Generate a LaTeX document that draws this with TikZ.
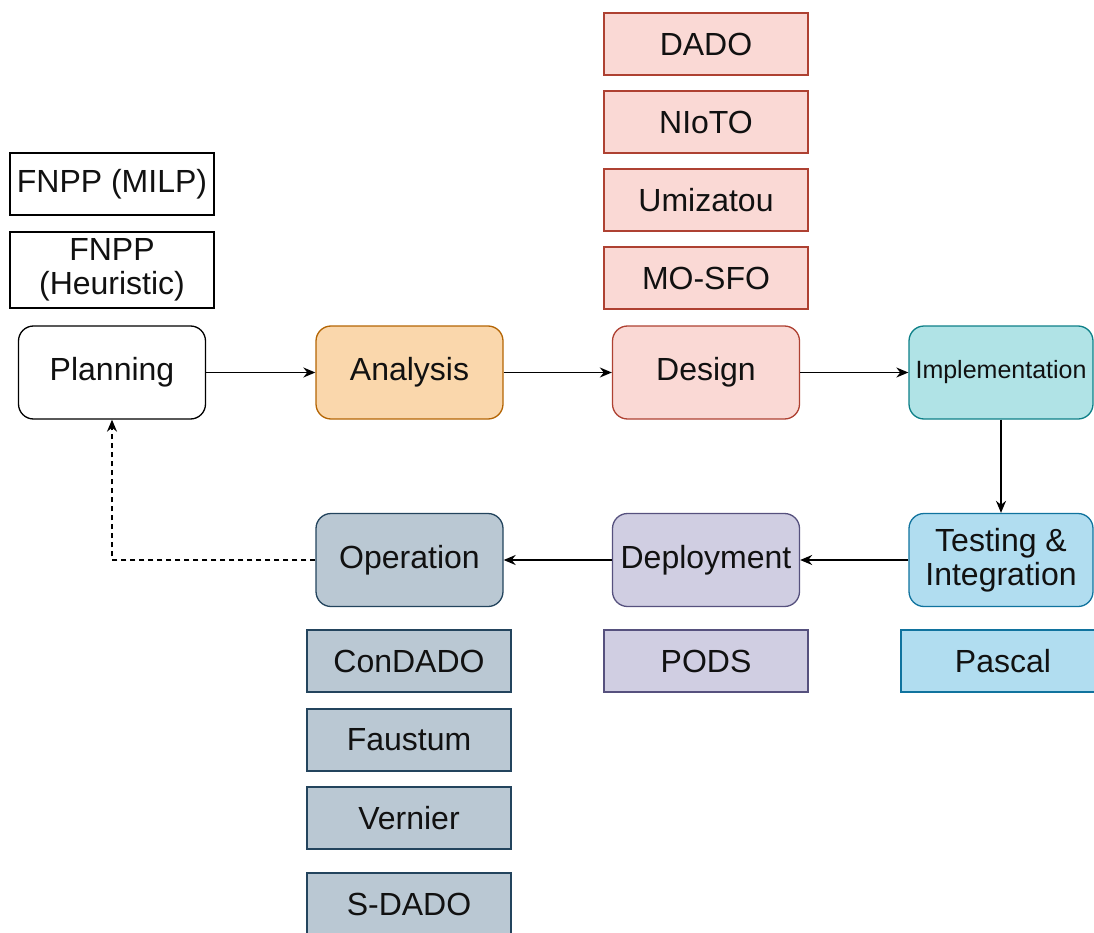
\documentclass[tikz,border=0pt]{standalone}
\usepackage{fontspec}
\setmainfont{Liberation Sans}
\usetikzlibrary{arrows.meta}
\definecolor{orF}{HTML}{FAD7AC}\definecolor{orS}{HTML}{B46504}
\definecolor{rdF}{HTML}{FAD9D5}\definecolor{rdS}{HTML}{AE4132}
\definecolor{tlF}{HTML}{B0E3E6}\definecolor{tlS}{HTML}{0E8088}
\definecolor{blF}{HTML}{B1DDF0}\definecolor{blS}{HTML}{10739E}
\definecolor{puF}{HTML}{D0CEE2}\definecolor{puS}{HTML}{56517E}
\definecolor{gyF}{HTML}{BAC8D3}\definecolor{gyS}{HTML}{23445D}
\definecolor{txt}{HTML}{111111}
\tikzset{
  phase/.style={draw, line width=1.3pt, rounded corners=15pt, minimum width=187pt, minimum height=93pt,
    align=center, inner sep=0pt, text=txt, font=\fontsize{32}{37}\selectfont},
  tool/.style={draw, line width=1.3pt, minimum width=204pt, minimum height=62pt,
    align=center, inner sep=0pt, text=txt, font=\fontsize{32}{37}\selectfont},
  flow/.style={line width=1.6pt, -{Stealth[length=12pt,width=10pt]}},
}
\begin{document}
\begin{tikzpicture}[x=1pt,y=-1pt]
\useasboundingbox (0,0) rectangle (1094,933);
\clip (0,0) rectangle (1094,933);
% life-cycle phases
\node[phase, fill=white] (plan) at (112,372.5) {Planning};
\node[phase, fill=orF, draw=orS] (ana) at (409.5,372.5) {Analysis};
\node[phase, fill=rdF, draw=rdS] (des) at (706,372.5) {Design};
\node[phase, fill=tlF, draw=tlS, minimum width=184pt, font=\fontsize{25}{30}\selectfont] (impl) at (1001,372.5) {Implementation};
\node[phase, fill=blF, draw=blS, minimum width=184pt] (test) at (1001,560) {Testing \&\\[-3pt]Integration};
\node[phase, fill=puF, draw=puS] (dep) at (706,560) {Deployment};
\node[phase, fill=gyF, draw=gyS] (op) at (409.5,560) {Operation};
% tools of each phase
\node[tool] (milp) at (112,184) {FNPP (MILP)};
\node[tool, minimum height=76pt] (heur) at (112,270) {FNPP\\[-3pt](Heuristic)};
\node[tool, fill=rdF, draw=rdS] (dado) at (706,44) {DADO};
\node[tool, fill=rdF, draw=rdS] (nioto) at (706,122) {NIoTO};
\node[tool, fill=rdF, draw=rdS] (umi) at (706,200) {Umizatou};
\node[tool, fill=rdF, draw=rdS] (mosfo) at (706,278) {MO-SFO};
\node[tool, fill=puF, draw=puS] (pods) at (706,661) {PODS};
\node[tool, fill=blF, draw=blS] (pascal) at (1003,661) {Pascal};
\node[tool, fill=gyF, draw=gyS] (condado) at (409,661) {ConDADO};
\node[tool, fill=gyF, draw=gyS] (faustum) at (409,740) {Faustum};
\node[tool, fill=gyF, draw=gyS] (vernier) at (409,818) {Vernier};
\node[tool, fill=gyF, draw=gyS] (sdado) at (409,904) {S-DADO};
% flow between phases
\draw[flow] (plan) -- (ana);
\draw[flow] (ana) -- (des);
\draw[flow] (des) -- (impl);
\draw[flow] (impl) -- (test);
\draw[flow] (test) -- (dep);
\draw[flow] (dep) -- (op);
\draw[flow, dashed, dash pattern=on 5pt off 4pt] (op.west) -| (plan.south);
\end{tikzpicture}
\end{document}
